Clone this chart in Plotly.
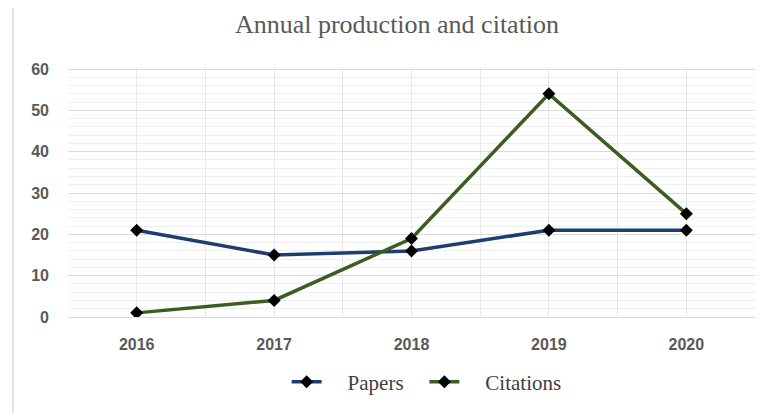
import plotly.graph_objects as go

years = [2016, 2017, 2018, 2019, 2020]
papers = [21, 15, 16, 21, 21]
citations = [1, 4, 19, 54, 25]
series_names = ["Papers", "Citations"]
title_text = "Annual production and citation"

NB = "\u00a0"
fig = go.Figure()
fig.add_trace(go.Scatter(
    x=years, y=papers, name=NB * 4 + series_names[0] + NB * 3, mode="lines+markers",
    line=dict(color="#203d70", width=3.5),
    marker=dict(symbol="diamond", size=10, color="black"),
))
fig.add_trace(go.Scatter(
    x=years, y=citations, name=NB * 4 + series_names[1], mode="lines+markers",
    line=dict(color="#3a5e22", width=3.5),
    marker=dict(symbol="diamond", size=10, color="black"),
))

fig.update_layout(
    width=765, height=413,
    margin=dict(l=60, r=18, t=59, b=104),
    paper_bgcolor="white", plot_bgcolor="white",
    title=dict(text=title_text, x=0.5085, xref="container", xanchor="center",
               y=0.961, yref="container", yanchor="middle",
               font=dict(family="Liberation Serif, DejaVu Serif, serif", size=26, color="#595959")),
    showlegend=True,
    legend=dict(orientation="h", x=0.522, xanchor="center", y=-0.26, yanchor="middle",
                font=dict(family="Liberation Serif, DejaVu Serif, serif", size=21, color="#404040")),
    xaxis=dict(
        range=[2015.5, 2020.5], tickvals=years, ticktext=[str(y) for y in years],
        showgrid=True, gridcolor="#e8e8e8", gridwidth=1,
        minor=dict(dtick=0.5, tick0=2015.5, showgrid=True, gridcolor="#e8e8e8", gridwidth=1),
        zeroline=False, showline=False, ticks="",
        tickfont=dict(family="Liberation Sans, Arial, sans-serif", size=16, color="#595959", weight="bold"),
        ticklabelstandoff=16,
    ),
    yaxis=dict(
        range=[0, 60.5], dtick=10, tick0=0,
        showgrid=True, gridcolor="#dcdcdc", gridwidth=1.3,
        minor=dict(dtick=2, showgrid=True, gridcolor="#efefef", gridwidth=1),
        zeroline=True, zerolinecolor="#dcdcdc", zerolinewidth=1.3,
        showline=False, ticks="",
        tickfont=dict(family="Liberation Sans, Arial, sans-serif", size=16, color="#595959", weight="bold"),
        ticklabelstandoff=18,
    ),
)

fig.add_shape(type="line", xref="paper", yref="paper",
              x0=-55/687, x1=-55/687, y0=-104/250, y1=1+59/250,
              line=dict(color="#d9d9d9", width=1.5))

fig.write_html("out.html")
